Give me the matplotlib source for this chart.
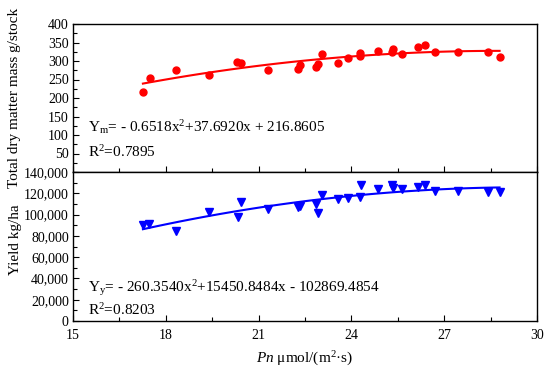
import numpy as np
import matplotlib
matplotlib.use("Agg")
import matplotlib.pyplot as plt
from matplotlib.ticker import MultipleLocator, FuncFormatter

plt.rcParams['font.family'] = ['Liberation Serif', 'DejaVu Serif']
plt.rcParams['mathtext.fontset'] = 'custom'
plt.rcParams['mathtext.rm'] = 'Liberation Serif'
plt.rcParams['mathtext.it'] = 'Liberation Serif:italic'

pn = [17.26, 17.48, 18.33, 19.39, 20.30, 20.44, 21.29, 22.26, 22.35, 22.84, 22.91, 23.06, 23.58,
      23.90, 24.27, 24.28, 24.87, 25.32, 25.36, 25.64, 26.16, 26.39, 26.69, 27.45, 28.42, 28.79]
dry_mass = [217, 253, 277, 262, 296, 295, 277, 279, 290, 285, 293, 318, 295,
            307, 322, 313, 327, 323, 333, 318, 339, 344, 323, 323, 325, 312]
pn_y = [17.26, 17.46, 18.33, 19.39, 20.33, 20.42, 21.30, 22.26, 22.35, 22.84, 22.91, 23.06, 23.58,
        23.90, 24.30, 24.28, 24.87, 25.31, 25.36, 25.64, 26.16, 26.39, 26.69, 27.45, 28.42, 28.79]
yield_kg = [90500, 91500, 84200, 102200, 98100, 112000, 105400, 107000, 107600, 109800, 101300,
            118000, 114800, 115800, 128100, 116700, 123700, 127500, 124600, 123700, 126200,
            128100, 122400, 122400, 121200, 121200]

eq_m = r'Y$_{\rm m}$= - 0.6518x$^{2}$+37.6920x + 216.8605'
r2_m = r'R$^{2}$=0.7895'
eq_y = r'Y$_{\rm y}$= - 260.3540x$^{2}$+15450.8484x - 102869.4854'
r2_y = r'R$^{2}$=0.8203'

fig = plt.figure(figsize=(5.5, 3.7), dpi=100)
L, R = 73/550, 537/550
top_t, mid, bot_b = 1-24/370, 1-172/370, 1-321/370
ax1 = fig.add_axes([L, mid, R-L, top_t-mid])
ax2 = fig.add_axes([L, bot_b, R-L, mid-bot_b])

def fitline(ax, x, y, color):
    c = np.polyfit(x, y, 2)
    xs = np.linspace(min(x), max(x), 100)
    ax.plot(xs, np.polyval(c, xs), color=color, lw=1.5, zorder=2)

ax1.plot(pn, dry_mass, 'o', color='#ff0000', ms=5, zorder=3)
fitline(ax1, pn, dry_mass, '#ff0000')
ax2.plot(pn_y, yield_kg, 'v', color='#0000ff', ms=5.5, zorder=3)
fitline(ax2, pn_y, yield_kg, '#0000ff')

for ax in (ax1, ax2):
    ax.set_xlim(15, 30)
    ax.xaxis.set_major_locator(MultipleLocator(3))
    ax.xaxis.set_minor_locator(MultipleLocator(1.5))
    ax.tick_params(which='both', direction='in', top=False, right=False, labelsize=10, pad=3)
    ax.tick_params(axis='x', which='both', pad=6)
    ax.tick_params(which='major', length=4, width=0.8)
    ax.tick_params(which='minor', length=3, width=0.8)
    for s in ax.spines.values():
        s.set_linewidth(1.0)

ax1.set_ylim(0, 400)
ax1.yaxis.set_major_locator(MultipleLocator(50))
ax1.yaxis.set_minor_locator(MultipleLocator(25))
ax1.set_yticks([50, 100, 150, 200, 250, 300, 350, 400])
ax1.tick_params(axis='x', labelbottom=False)

ax2.set_ylim(0, 140000)
ax2.yaxis.set_major_locator(MultipleLocator(20000))
ax2.yaxis.set_minor_locator(MultipleLocator(10000))
ax2.yaxis.set_major_formatter(FuncFormatter(lambda v, p: f'{int(v):,}'))

fs = 11
ax1.text(0.032, 0.27, eq_m, transform=ax1.transAxes, fontsize=fs, va='baseline')
ax1.text(0.032, 0.10, r2_m, transform=ax1.transAxes, fontsize=fs, va='baseline')
ax2.text(0.032, 0.195, eq_y, transform=ax2.transAxes, fontsize=fs, va='baseline')
ax2.text(0.032, 0.04, r2_y, transform=ax2.transAxes, fontsize=fs, va='baseline')

ax2.set_xlabel(r'$\it{Pn}$ μmol/(m$^{2}$·s)', fontsize=fs, labelpad=5)
fig.text(15/550, 1-98/370, 'Total dry matter mass g/stock', rotation=90, fontsize=fs,
         ha='center', va='center')
fig.text(15/550, 1-240/370, 'Yield kg/ha', rotation=90, fontsize=fs, ha='center', va='center')

fig.savefig('out.png', dpi=100)
